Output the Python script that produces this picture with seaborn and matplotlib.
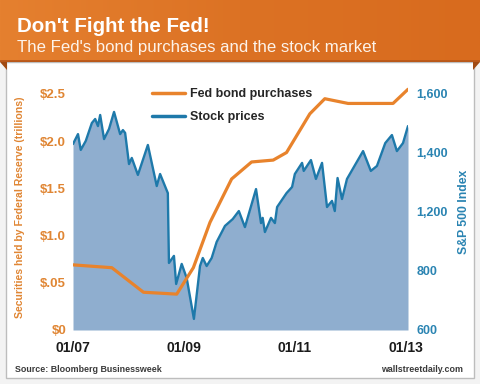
import matplotlib
matplotlib.use('Agg')
import matplotlib.pyplot as plt
import seaborn as sns
import numpy as np
import pandas as pd
from matplotlib.patches import Rectangle, Polygon
from matplotlib.colors import LinearSegmentedColormap

# ---------------- data ----------------
fed_years = [2007.00, 2007.70, 2008.27, 2008.87, 2009.17, 2009.47, 2009.86, 2010.22,
             2010.61, 2010.85, 2011.27, 2011.54, 2011.96, 2012.77, 2013.04]
fed_values = [0.69, 0.66, 0.40, 0.38, 0.66, 1.14, 1.60, 1.78,
              1.80, 1.88, 2.29, 2.45, 2.40, 2.40, 2.55]

stock_years = [2007.00, 2007.09, 2007.14, 2007.23, 2007.34, 2007.40, 2007.45, 2007.49,
               2007.56, 2007.65, 2007.74, 2007.85, 2007.90, 2007.94, 2008.01, 2008.06,
               2008.17, 2008.35, 2008.51, 2008.57, 2008.71, 2008.73, 2008.82, 2008.86,
               2008.96, 2009.05, 2009.18, 2009.29, 2009.34, 2009.41, 2009.50, 2009.59,
               2009.74, 2009.88, 2009.99, 2010.10, 2010.30, 2010.39, 2010.42, 2010.46,
               2010.57, 2010.64, 2010.68, 2010.85, 2010.95, 2011.00, 2011.13, 2011.16,
               2011.29, 2011.38, 2011.49, 2011.58, 2011.67, 2011.72, 2011.77, 2011.85,
               2011.94, 2012.23, 2012.37, 2012.48, 2012.63, 2012.75, 2012.84, 2012.95,
               2013.04]
stock_values = [1388, 1430, 1363, 1401, 1477, 1494, 1464, 1511,
                1409, 1452, 1524, 1430, 1447, 1435, 1303, 1329,
                1257, 1384, 1210, 1261, 1180, 884, 914, 795,
                880, 820, 647, 871, 905, 871, 905, 973,
                1041, 1070, 1104, 1036, 1197, 1053, 1075, 1015,
                1075, 1053, 1121, 1180, 1206, 1261, 1308, 1274,
                1320, 1240, 1308, 1121, 1147, 1104, 1244, 1155,
                1240, 1358, 1274, 1295, 1392, 1426, 1358, 1392,
                1464]

x_ticks = [2007, 2009, 2011, 2013]
x_labels = ['01/07', '01/09', '01/11', '01/13']
left_ticks = [0, 0.5, 1.0, 1.5, 2.0, 2.5]
left_labels = ['$0', '$.05', '$1.0', '$1.5', '$2.0', '$2.5']
right_ticks = [600, 850, 1100, 1350, 1600]
right_labels = ['600', '800', '1,200', '1,400', '1,600']

fed_df = pd.DataFrame({'year': fed_years, 'value': fed_values})
stock_df = pd.DataFrame({'year': stock_years, 'value': stock_values})

# ---------------- style ----------------
sns.set_theme(style='white')
FAM = ['Liberation Sans', 'DejaVu Sans']
plt.rcParams['font.family'] = FAM

ORANGE = '#E8832C'
ORANGE_TXT = '#E08634'
BLUE = '#1E79AA'
BLUE_TXT = '#2A84B2'
FILL = '#8FAECF'

W, H = 480, 384
fig = plt.figure(figsize=(W / 100, H / 100), dpi=100)
fig.patch.set_facecolor('#F3F3F3')

# white panel
fig.add_artist(Rectangle((6 / W, (H - 378) / H), 468 / W, (378 - 62) / H,
                         transform=fig.transFigure, facecolor='white',
                         edgecolor='#BDBDBD', linewidth=1.0, zorder=0))

# header band with gradient
hax = fig.add_axes([0, (H - 62) / H, 1, 62 / H])
grad = np.linspace(0, 1, 256).reshape(1, -1)
cmap = LinearSegmentedColormap.from_list('hdr', ['#E5802F', '#DC7224', '#D86B1E'])
hax.imshow(grad, aspect='auto', cmap=cmap, extent=[0, 1, 0, 1])
hax.axhline(0.02, color='#B9581A', linewidth=2)
hax.set_axis_off()

# little folds
fig.add_artist(Polygon([[0, (H - 62) / H], [7 / W, (H - 62) / H], [7 / W, (H - 70) / H]],
                       closed=True, transform=fig.transFigure, facecolor='#A04A12',
                       edgecolor='none', zorder=3))
fig.add_artist(Polygon([[1, (H - 62) / H], [1 - 7 / W, (H - 62) / H], [1 - 7 / W, (H - 70) / H]],
                       closed=True, transform=fig.transFigure, facecolor='#A04A12',
                       edgecolor='none', zorder=3))

fig.text(17 / W, (H - 32) / H, "Don't Fight the Fed!", color='white', fontsize=14.8,
         fontweight='bold', va='baseline')
fig.text(17 / W, (H - 52) / H, "The Fed's bond purchases and the stock market", color='#FDF3EA',
         fontsize=12.1, va='baseline')

# ---------------- main axes ----------------
x0, x1, ytop, ybot = 73, 408, 76, 330
ax = fig.add_axes([x0 / W, (H - ybot) / H, (x1 - x0) / W, (ybot - ytop) / H])
ax2 = ax.twinx()

px_per_unit_left = 94.4
ax.set_ylim(0, (ybot - ytop) / px_per_unit_left)
ax2.set_ylim(600, 600 + (ybot - ytop) * 4.237)
ax.set_xlim(2007.0, 2013.04)

# stock (right axis)
ax2.fill_between(stock_df['year'], stock_df['value'], 600, color=FILL, linewidth=0, zorder=1)
sns.lineplot(data=stock_df, x='year', y='value', ax=ax2, color=BLUE, linewidth=1.7,
             estimator=None, sort=False, zorder=2)
ax2.grid(axis='x', linestyle=(0, (1, 2)), color='#BFBFBF', linewidth=0.8)
ax2.grid(axis='y', visible=False)
ax2.set_axisbelow(True)

# fed (left axis), drawn on top
sns.lineplot(data=fed_df, x='year', y='value', ax=ax, color=ORANGE, linewidth=2.3,
             estimator=None, sort=False, zorder=3)
ax.set_zorder(ax2.get_zorder() + 1)
ax.patch.set_visible(False)
ax.grid(False)

for a in (ax, ax2):
    for s in a.spines.values():
        s.set_visible(False)
    a.tick_params(length=0)

ax.set_xticks(x_ticks, x_labels)
ax.tick_params(axis='x', pad=8, labelsize=10)
for t in ax.get_xticklabels():
    t.set_fontweight('bold')
    t.set_color('#1A1A1A')
ax.set_xlabel('')

ax.set_yticks(left_ticks, left_labels)
ax.tick_params(axis='y', pad=5, labelsize=9.5, labelcolor=ORANGE_TXT)
for t in ax.get_yticklabels():
    t.set_fontweight('bold')
ax.set_ylabel('Securities held by Federal Reserve (trillions)', color=ORANGE_TXT,
              fontsize=7.6, fontweight='bold')
ax.yaxis.set_label_coords(-(x0 - 25) / (x1 - x0), (ybot - 207) / (ybot - ytop))

ax2.set_yticks(right_ticks, right_labels)
ax2.tick_params(axis='y', pad=6, labelsize=9, labelcolor=BLUE_TXT)
for t in ax2.get_yticklabels():
    t.set_fontweight('bold')
ax2.set_ylabel('S&P 500 Index', color=BLUE_TXT, fontsize=8.8, fontweight='bold')
ax2.yaxis.set_label_coords((458 - x0) / (x1 - x0), (ybot - 212) / (ybot - ytop))
ax2.set_xlabel('')

# legend
h1 = ax.get_lines()[0]
h2 = ax2.get_lines()[0]
leg = ax.legend([h1, h2], ['Fed bond purchases', 'Stock prices'], loc='upper left',
                bbox_to_anchor=((152 - x0) / (x1 - x0), (ybot - 88) / (ybot - ytop)),
                frameon=False, borderpad=0, borderaxespad=0, handlelength=2.6,
                handletextpad=0.45, labelspacing=0.9, prop={'weight': 'bold', 'size': 9})
for line in leg.get_lines():
    line.set_linewidth(2.5)

# footer texts
fig.text(15 / W, (H - 369) / H, 'Source: Bloomberg Businessweek', fontsize=6.4,
         fontweight='bold', color='#3A3A3A', va='center')
fig.text(463 / W, (H - 369) / H, 'wallstreetdaily.com', fontsize=6.4,
         fontweight='bold', color='#3A3A3A', va='center', ha='right')

fig.savefig('out.png', dpi=100, facecolor=fig.get_facecolor())
